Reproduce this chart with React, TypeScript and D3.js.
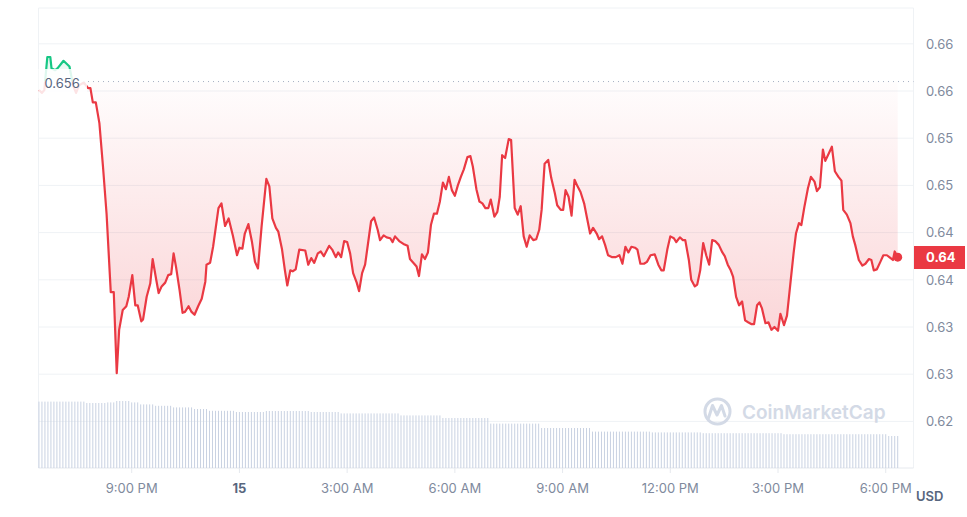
import * as d3 from "d3";

// price readings, minutes after 18:25 on the 14th
const priceMinutes = [
  0, 5, 9, 14, 19, 21, 27, 31, 41, 51, 57, 62, 67, 75, 82, 86, 90, 95, 101, 107,
  113, 120, 125, 130, 134, 140, 146, 150, 156, 161, 165, 171, 174, 180, 186, 190, 196, 200, 205, 211,
  216, 221, 225, 229, 235, 240, 244, 250, 255, 260, 266, 272, 278, 280, 286, 291, 300, 305, 311, 317,
  324, 331, 335, 340, 344, 350, 356, 361, 366, 372, 380, 385, 390, 396, 400, 406, 411, 415, 420, 424,
  429, 435, 445, 450, 455, 460, 466, 471, 476, 485, 490, 496, 500, 505, 510, 515, 520, 525, 531, 535,
  540, 545, 550, 555, 560, 566, 570, 576, 581, 587, 591, 595, 602, 609, 616, 620, 627, 631, 635, 640,
  645, 650, 655, 660, 665, 670, 675, 680, 685, 690, 695, 700, 705, 710, 716, 721, 725, 731, 736, 741,
  746, 751, 755, 761, 766, 770, 774, 779, 785, 789, 795, 800, 805, 810, 815, 820, 826, 831, 836, 840,
  845, 851, 856, 862, 866, 872, 876, 880, 885, 890, 895, 900, 905, 911, 916, 921, 926, 932, 936, 941,
  946, 951, 958, 964, 970, 975, 980, 985, 990, 996, 1000, 1005, 1011, 1016, 1022, 1029, 1035, 1040, 1044, 1050,
  1055, 1061, 1065, 1071, 1076, 1080, 1086, 1090, 1096, 1100, 1105, 1110, 1115, 1120, 1125, 1130, 1136, 1142, 1146, 1151,
  1156, 1160, 1165, 1170, 1175, 1180, 1185, 1191, 1195, 1200, 1204, 1208, 1214, 1219, 1224, 1229, 1235, 1239, 1245, 1250,
  1256, 1261, 1265, 1270, 1274, 1279, 1285, 1290, 1296, 1300, 1305, 1310, 1314, 1320, 1325, 1330, 1336, 1341, 1344, 1350,
  1356, 1360, 1364, 1370, 1376, 1381, 1387, 1391, 1395, 1400, 1406, 1411, 1417, 1421, 1427, 1430, 1435,
];

const priceValues = [
  0.6551, 0.6548, 0.6551, 0.6586, 0.6586, 0.6574, 0.6572, 0.6574, 0.6582, 0.6576, 0.6556, 0.6548, 0.6556, 0.6559, 0.6553, 0.6553, 0.6538, 0.6538, 0.6516, 0.647,
  0.642, 0.6337, 0.6337, 0.6251, 0.6297, 0.6318, 0.6322, 0.6332, 0.6355, 0.6323, 0.6323, 0.6306, 0.6308, 0.6332, 0.6346, 0.6372, 0.635, 0.6336, 0.6343, 0.6347,
  0.6355, 0.6356, 0.6378, 0.6364, 0.6339, 0.6315, 0.6316, 0.6322, 0.6316, 0.6313, 0.6322, 0.633, 0.6348, 0.6366, 0.6368, 0.6385, 0.6426, 0.6431, 0.6407, 0.6415,
  0.6397, 0.6376, 0.6384, 0.6383, 0.6399, 0.6409, 0.639, 0.6369, 0.6362, 0.6406, 0.6457, 0.6449, 0.6415, 0.6405, 0.6401, 0.6383, 0.636, 0.6344, 0.636, 0.6359,
  0.6361, 0.6382, 0.6381, 0.6366, 0.6373, 0.6368, 0.6378, 0.638, 0.6375, 0.6386, 0.6382, 0.6374, 0.6379, 0.6374, 0.6391, 0.639, 0.6378, 0.6357, 0.6347, 0.6338,
  0.6357, 0.6366, 0.6389, 0.6412, 0.6416, 0.6403, 0.6392, 0.6397, 0.6395, 0.6394, 0.639, 0.6396, 0.6391, 0.6388, 0.6386, 0.6372, 0.6367, 0.6364, 0.6354, 0.6377,
  0.6372, 0.6379, 0.6408, 0.642, 0.642, 0.6433, 0.6453, 0.6446, 0.6459, 0.6445, 0.6439, 0.645, 0.6459, 0.6467, 0.648, 0.6481, 0.647, 0.6446, 0.6433, 0.6431,
  0.6426, 0.6426, 0.6435, 0.6417, 0.6422, 0.6438, 0.6482, 0.6479, 0.6499, 0.6498, 0.6426, 0.6419, 0.6428, 0.6396, 0.6385, 0.6397, 0.6392, 0.6393, 0.6403, 0.6424,
  0.6473, 0.6477, 0.6458, 0.6442, 0.6429, 0.6424, 0.6424, 0.6445, 0.6438, 0.6418, 0.6456, 0.6449, 0.6443, 0.6431, 0.6415, 0.6399, 0.6405, 0.6399, 0.6393, 0.6396,
  0.6387, 0.6376, 0.6374, 0.6374, 0.6376, 0.6367, 0.6385, 0.6379, 0.6385, 0.6384, 0.6382, 0.6367, 0.6367, 0.6369, 0.6376, 0.6377, 0.6366, 0.636, 0.636, 0.6382,
  0.6396, 0.6394, 0.639, 0.6395, 0.6392, 0.6392, 0.6371, 0.635, 0.6343, 0.6345, 0.636, 0.6389, 0.6376, 0.6366, 0.6392, 0.6391, 0.6387, 0.6379, 0.6375, 0.6366,
  0.636, 0.6353, 0.6332, 0.6323, 0.6327, 0.6307, 0.6305, 0.6303, 0.6303, 0.6323, 0.6326, 0.632, 0.6304, 0.6305, 0.6297, 0.63, 0.6296, 0.6314, 0.6302, 0.6312,
  0.6348, 0.6378, 0.6399, 0.641, 0.6408, 0.6427, 0.6447, 0.6459, 0.6454, 0.6444, 0.6448, 0.6488, 0.6476, 0.6484, 0.6491, 0.6465, 0.6459, 0.6455, 0.6424, 0.6419,
  0.641, 0.6396, 0.6387, 0.6371, 0.6365, 0.6367, 0.6372, 0.6371, 0.636, 0.6361, 0.6369, 0.6376, 0.6376, 0.6374, 0.6371, 0.638, 0.6374,
];

// 5-minute volume bars (M USD), one row per hour
const volumeValues = [
  33.2, 33.2, 33.2, 33.2, 33.2, 33.2, 33.2, 33.2, 33.2, 33.2, 33.2, 33.2,
  33.2, 33.2, 33.2, 33.2, 32.5, 32.5, 32.5, 32.5, 32.5, 32.5, 32.5, 32.8,
  32.8, 32.8, 33.5, 33.5, 33.5, 33.5, 33.5, 32.8, 32.8, 32.8, 31.8, 31.8,
  31.8, 31.8, 31.8, 31.1, 31.1, 31.1, 31.1, 31.1, 31.1, 30.3, 30.3, 30.3,
  30.3, 30.3, 30.3, 30.3, 29.5, 29.5, 29.5, 29.5, 29.5, 28.6, 28.6, 28.6,
  28.6, 28.6, 28.6, 28.6, 28.6, 28.6, 28.0, 28.0, 28.0, 28.0, 28.0, 28.0,
  28.0, 28.0, 28.0, 28.0, 28.5, 28.5, 28.5, 28.5, 28.5, 28.5, 28.5, 28.5,
  28.5, 28.5, 28.5, 28.5, 28.5, 28.5, 28.5, 28.0, 28.0, 28.0, 28.0, 28.0,
  28.0, 28.0, 28.0, 28.0, 28.0, 27.3, 27.3, 27.3, 27.3, 27.3, 27.3, 27.3,
  27.3, 27.3, 27.3, 27.3, 27.3, 27.3, 27.3, 27.3, 27.3, 27.3, 27.3, 27.3,
  27.3, 26.3, 26.3, 26.3, 26.3, 26.3, 26.3, 26.3, 26.3, 26.3, 26.3, 26.3,
  26.3, 26.3, 26.3, 25.0, 25.0, 25.0, 25.0, 25.0, 25.0, 25.0, 25.0, 25.0,
  25.0, 25.0, 25.0, 25.0, 25.0, 25.0, 25.0, 22.2, 22.2, 22.2, 22.2, 22.2,
  22.2, 22.2, 22.2, 22.2, 22.2, 22.2, 22.2, 22.2, 22.2, 22.2, 22.2, 22.2,
  20.0, 20.0, 20.0, 20.0, 20.0, 20.0, 20.0, 20.0, 20.0, 20.0, 20.0, 20.0,
  20.0, 20.0, 20.0, 20.0, 20.0, 18.2, 18.2, 18.2, 18.2, 18.2, 18.2, 18.2,
  18.2, 18.2, 18.2, 18.2, 18.2, 18.2, 18.2, 18.2, 18.2, 18.2, 18.2, 18.2,
  18.2, 17.8, 17.8, 17.8, 17.8, 17.8, 17.8, 17.8, 17.8, 17.8, 17.8, 17.8,
  17.8, 17.8, 17.8, 17.8, 17.8, 17.8, 17.4, 17.4, 17.4, 17.4, 17.4, 17.4,
  17.4, 17.4, 17.4, 17.4, 17.4, 17.4, 17.4, 17.4, 17.4, 17.4, 17.4, 17.4,
  17.4, 17.4, 17.4, 17.4, 17.4, 17.4, 17.4, 17.4, 17.4, 16.9, 16.9, 16.9,
  16.9, 16.9, 16.9, 16.9, 16.9, 16.9, 16.9, 16.9, 16.9, 16.9, 16.9, 16.9,
  16.9, 16.9, 16.9, 16.9, 16.9, 16.9, 16.9, 16.9, 16.9, 16.9, 16.9, 16.9,
  16.9, 16.9, 16.9, 16.9, 16.9, 16.9, 16.9, 16.9, 16.0, 16.0, 16.0, 16.0,
];

const openPrice = 0.656;
const openLabel = "0.656";
const currentLabel = "0.64";
const yTickValues = [0.62, 0.625, 0.63, 0.635, 0.64, 0.645, 0.65, 0.655, 0.66];
const yTickLabels = ["0.62", "0.63", "0.63", "0.64", "0.64", "0.65", "0.65", "0.66", "0.66"];
const xTickLabels = ["9:00 PM", "15", "3:00 AM", "6:00 AM", "9:00 AM", "12:00 PM", "3:00 PM", "6:00 PM"];

const RED = "#ea3943";
const GREEN = "#16c784";
const GRID = "#eff2f5";
const FONT = "Inter, 'Noto Sans', sans-serif";

export default function App() {
  const width = 967;
  const height = 517;
  const left = 38.5;
  const right = 913.5;
  const top = 8;
  const bottom = 468;

  const start = new Date(2024, 4, 14, 18, 25);
  const end = d3.timeMinute.offset(start, 1435);
  const x = d3.scaleTime().domain([start, end]).range([38.95, 897.7]);
  const y = d3.scaleLinear().domain([0.62, 0.66]).range([421.4, 43.8]);
  const vy = d3.scaleLinear().domain([0, 34]).range([bottom, 400]);

  const points = priceMinutes.map((m, i) => ({
    t: d3.timeMinute.offset(start, m),
    v: priceValues[i],
  }));
  const yBase = y(openPrice);

  const line = d3
    .line<{ t: Date; v: number }>()
    .x((d) => x(d.t))
    .y((d) => y(d.v));
  const area = d3
    .area<{ t: Date; v: number }>()
    .x((d) => x(d.t))
    .y0(yBase)
    .y1((d) => y(d.v));

  const xTicks = x.ticks(d3.timeHour.every(3) as d3.TimeInterval);
  const last = points[points.length - 1];

  return (
    <svg
      width={width}
      height={height}
      style={{ position: "absolute", left: 0, top: 0, display: "block", background: "#fff" }}
      fontFamily={FONT}
    >
      <defs>
        <clipPath id="above">
          <rect x={0} y={0} width={width} height={yBase} />
        </clipPath>
        <clipPath id="below">
          <rect x={0} y={yBase} width={width} height={bottom - yBase} />
        </clipPath>
        <linearGradient id="redFill" gradientUnits="userSpaceOnUse" x1={0} y1={yBase} x2={0} y2={y(0.625)}>
          <stop offset="0" stopColor={RED} stopOpacity={0.01} />
          <stop offset="1" stopColor={RED} stopOpacity={0.24} />
        </linearGradient>
        <linearGradient id="greenFill" gradientUnits="userSpaceOnUse" x1={0} y1={y(0.66)} x2={0} y2={yBase}>
          <stop offset="0" stopColor={GREEN} stopOpacity={0.22} />
          <stop offset="1" stopColor={GREEN} stopOpacity={0.02} />
        </linearGradient>
      </defs>

      {/* grid */}
      {yTickValues.map((v) => (
        <line key={v} x1={left} x2={right} y1={y(v)} y2={y(v)} stroke={GRID} strokeWidth={1} />
      ))}
      <line x1={left} x2={right} y1={top} y2={top} stroke={GRID} />
      <line x1={left} x2={left} y1={top} y2={bottom} stroke={GRID} />
      <line x1={right} x2={right} y1={top} y2={bottom} stroke={GRID} />
      <line x1={left} x2={right} y1={bottom} y2={bottom} stroke="#e6e9ee" />

      {/* volume */}
      {volumeValues.map((v, i) => {
        const bx = x(d3.timeMinute.offset(start, i * 5));
        return (
          <rect key={i} x={bx - 0.5} y={vy(v)} width={1} height={bottom - vy(v)} fill="#c9d2e2" />
        );
      })}

      {/* watermark */}
      <g opacity={0.9}>
        <circle cx={717.5} cy={411.5} r={12.5} fill="none" stroke="#cfd6e4" strokeWidth={3} />
        <path
          d="M708.5,418 L712.5,405.5 L717,415 L721.5,405.5 L725,416"
          fill="none"
          stroke="#cfd6e4"
          strokeWidth={3}
          strokeLinejoin="round"
          strokeLinecap="round"
        />
        <text x={742} y={418.5} fontSize={19} fontWeight={600} fill="#cfd6e4">
          CoinMarketCap
        </text>
      </g>

      {/* price area + line */}
      <g clipPath="url(#above)">
        <path d={area(points) ?? ""} fill="url(#greenFill)" />
        <path d={line(points) ?? ""} fill="none" stroke={GREEN} strokeWidth={2.2} strokeLinejoin="round" />
      </g>
      <g clipPath="url(#below)">
        <path d={area(points) ?? ""} fill="url(#redFill)" />
        <path d={line(points) ?? ""} fill="none" stroke={RED} strokeWidth={2.2} strokeLinejoin="round" />
      </g>

      {/* open price reference */}
      <line x1={88} x2={right} y1={yBase} y2={yBase} stroke="#a6b0c3" strokeWidth={1} strokeDasharray="1 4" />
      <rect x={38.5} y={69} width={48.5} height={29} fill="#fff" opacity={0.86} />
      <text x={44.5} y={yBase + 6} fontSize={13} fill="#58667e">
        {openLabel}
      </text>

      <circle cx={x(last.t)} cy={y(last.v)} r={4.5} fill={RED} />

      {/* right axis */}
      {yTickValues.map((v, i) => (
        <text key={v} x={926} y={y(v) + 4.7} fontSize={13} fill="#808a9d">
          {yTickLabels[i]}
        </text>
      ))}
      <rect x={914} y={246} width={51} height={23} fill={RED} />
      <text x={926} y={y(last.v) + 4.7} fontSize={13} fontWeight={700} fill="#fff">
        {currentLabel}
      </text>

      {/* bottom axis */}
      {xTicks.map((t, i) => (
        <g key={i} transform={`translate(${x(t)},0)`}>
          <line y1={bottom} y2={bottom + 5} stroke="#e6e9ee" />
          <text
            y={492.5}
            textAnchor="middle"
            fontSize={13}
            fontWeight={xTickLabels[i] === "15" ? 700 : 400}
            fill={xTickLabels[i] === "15" ? "#58667e" : "#808a9d"}
          >
            {xTickLabels[i]}
          </text>
        </g>
      ))}
      <text x={916} y={501} fontSize={13} fontWeight={600} fill="#58667e">
        USD
      </text>
    </svg>
  );
}
